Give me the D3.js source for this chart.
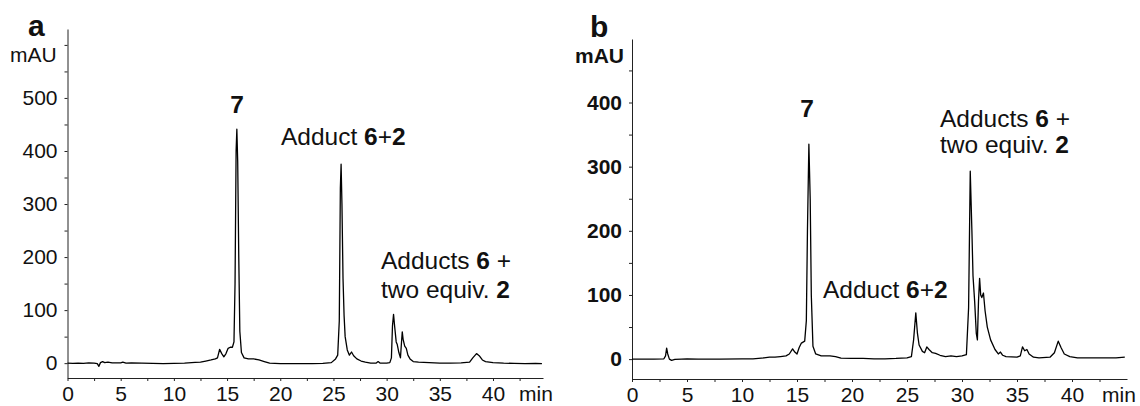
<!DOCTYPE html>
<html><head><meta charset="utf-8">
<script src="https://cdn.jsdelivr.net/npm/d3@7"></script>
<style>
body{margin:0;background:#fff;}
svg{display:block;font-family:"Liberation Sans",Arial,sans-serif;}
text{fill:#111;}
</style></head>
<body>
<svg id="c" width="1140" height="406"></svg>
<script>
// ---- data ----
const timeA = [0,0.5,1,1.5,2,2.5,2.8,2.95,3.1,3.3,3.5,3.8,4.2,5,5.2,5.5,6,7,8,9,10,11,12,12.5,13,13.5,13.9,14.1,14.3,14.5,14.7,14.9,15.1,15.3,15.5,15.65,15.75,15.85,15.92,16.0,16.1,16.2,16.35,16.6,17.0,17.5,18,18.5,19,20,21,22,23,24,24.8,25.2,25.4,25.55,25.65,25.72,25.8,25.9,26.0,26.1,26.3,26.5,26.7,26.9,27.2,27.6,28,28.5,29,29.2,29.4,30,30.3,30.45,30.55,30.65,30.75,30.9,31.0,31.15,31.3,31.4,31.47,31.55,31.7,31.85,32.0,32.2,32.5,33,34,35,36,37,37.8,38.1,38.45,38.7,39.0,39.3,40,41,42,43,44,44.6];
const mauA  = [0,-0.5,0,-0.5,0.5,0,-1,-6,1,3,1,2,0.5,0.5,2,0,0.5,0,-0.5,-1,-0.5,0,1.5,2,4,6,8,10,26,18,12,18,28,30,30,40,150,400,441,380,200,60,20,10,8,8,6,3,0,-1,-1,-1,-1,-0.5,1,8,15,80,330,375,300,160,90,50,25,15,21,14,8,4,2,0,0,3,0,0,1,10,70,92,70,40,35,20,10,40,59,45,32,28,15,8,3,2,1,0,0,0.5,2,10,18,14,6,3,1,0,-0.5,-1,-0.5,-1];

const timeB = [0,1,2,2.9,3.05,3.15,3.25,3.4,3.6,3.9,4.5,5,6,8,10,11,12,12.5,13,13.5,14,14.3,14.6,14.8,15.0,15.2,15.4,15.7,15.85,15.95,16.08,16.2,16.3,16.45,16.7,17.2,18,18.5,19,20,21,22,23,24,25,25.4,25.6,25.8,25.95,26.1,26.4,26.6,26.8,27.0,27.3,27.6,28,28.5,29,29.5,30,30.4,30.6,30.75,30.9,31.0,31.15,31.3,31.4,31.5,31.6,31.7,31.8,31.95,32.1,32.3,32.6,33,33.3,33.5,33.7,34,35,35.3,35.5,35.7,35.9,36.1,36.5,37,38,38.4,38.75,39.0,39.3,39.8,40.5,42,44,44.8];
const mauB  = [0,0,0,0.5,5,17,8,0,-2,-0.5,0,0.5,0,0,0.5,0.5,2,3,3,4,5,8,16,11,8,18,25,28,60,200,335,250,100,20,8,5,5,4,1.5,1,1,0.5,0.5,1,2,4,30,72,40,22,12,10,19,15,10,9,6,4,5,4,5,7,80,293,200,130,90,40,30,90,126,100,96,103,75,50,30,15,8,11,6,4,3,5,19,13,15,8,3,2,3,10,28,18,8,4,2,2,2,3];

const xTicks = [0,5,10,15,20,25,30,35,40];
const yTicksA = [0,100,200,300,400,500];
const yTicksB = [0,100,200,300,400];

// ---- drawing ----
const svg = d3.select("#c");
const FONT = 21;

function panel(cfg){
  const g = svg.append("g");
  const x = d3.scaleLinear().domain(cfg.xDom).range(cfg.xRange);
  const y = d3.scaleLinear().domain(cfg.yDom).range(cfg.yRange);

  const minorX = d3.range(0, cfg.xDom[1], 2.5);
  const minorY = d3.range(0, cfg.yDom[1], 50);

  const xa = g.append("g").attr("transform",`translate(0,${cfg.yRange[0]})`)
    .call(d3.axisBottom(x).tickValues(minorX).tickSize(3).tickSizeOuter(0).tickPadding(5)
      .tickFormat(d => xTicks.includes(d) ? d : ""));
  const ya = g.append("g").attr("transform",`translate(${cfg.xRange[0]},0)`)
    .call(d3.axisLeft(y).tickValues(minorY).tickSize(3).tickSizeOuter(0).tickPadding(7)
      .tickFormat(d => cfg.yTicks.includes(d) ? d : ""));
  [xa, ya].forEach(a => {
    a.selectAll("path,line").attr("stroke","#222").attr("stroke-width",1);
    a.selectAll("text").attr("font-size",FONT).attr("fill","#111")
      .attr("font-family","Liberation Sans, Arial, sans-serif");
  });
  ya.selectAll("text").attr("font-weight", cfg.yBold ? "bold" : "normal");

  g.append("text").attr("x",cfg.minX).attr("y",cfg.yRange[0]+23)
    .attr("font-size",FONT).text("min");
  g.append("text").attr("x",cfg.mauX).attr("y",cfg.mauY)
    .attr("font-size",FONT).attr("font-weight", cfg.yBold ? "bold":"normal").text("mAU");
  g.append("text").attr("x",cfg.letterX).attr("y",cfg.letterY)
    .attr("font-size",30).attr("font-weight","bold").text(cfg.letter);

  const pts = cfg.t.map((t,i)=>[t,cfg.v[i]]);
  g.append("path").datum(pts)
    .attr("fill","none").attr("stroke","#000").attr("stroke-width",1.3)
    .attr("stroke-linejoin","round")
    .attr("d", d3.line().x(d=>x(d[0])).y(d=>y(d[1])));

  cfg.labels.forEach(l => {
    const t = g.append("text").attr("x",l.x).attr("y",l.y).attr("font-size",24.5)
      .attr("text-anchor", l.anchor || "start");
    l.parts.forEach(p => t.append("tspan").attr("font-weight", p[1] ? "bold":"normal").text(p[0]));
  });
}

panel({
  xDom:[0,44.7], xRange:[67.5,543], yDom:[-28,630], yRange:[378,29],
  yTicks: yTicksA, yBold:false, t: timeA, v: mauA,
  minX:519, mauX:10, mauY:62, letter:"a", letterX:28, letterY:36,
  labels:[
    {x:237,y:113,anchor:"middle",parts:[["7",true]]},
    {x:281,y:145,parts:[["Adduct ",false],["6",true],["+",false],["2",true]]},
    {x:381,y:269,parts:[["Adducts ",false],["6",true],[" +",false]]},
    {x:381,y:298,parts:[["two equiv. ",false],["2",true]]}
  ]
});

panel({
  xDom:[0,45], xRange:[632,1127], yDom:[-31,499], yRange:[379,39],
  yTicks: yTicksB, yBold:true, t: timeB, v: mauB,
  minX:1102, mauX:575, mauY:63, letter:"b", letterX:590, letterY:37,
  labels:[
    {x:807,y:117,anchor:"middle",parts:[["7",true]]},
    {x:940,y:127,parts:[["Adducts ",false],["6",true],[" +",false]]},
    {x:940,y:153,parts:[["two equiv. ",false],["2",true]]},
    {x:823,y:298,parts:[["Adduct ",false],["6",true],["+",false],["2",true]]}
  ]
});
</script>
</body></html>
